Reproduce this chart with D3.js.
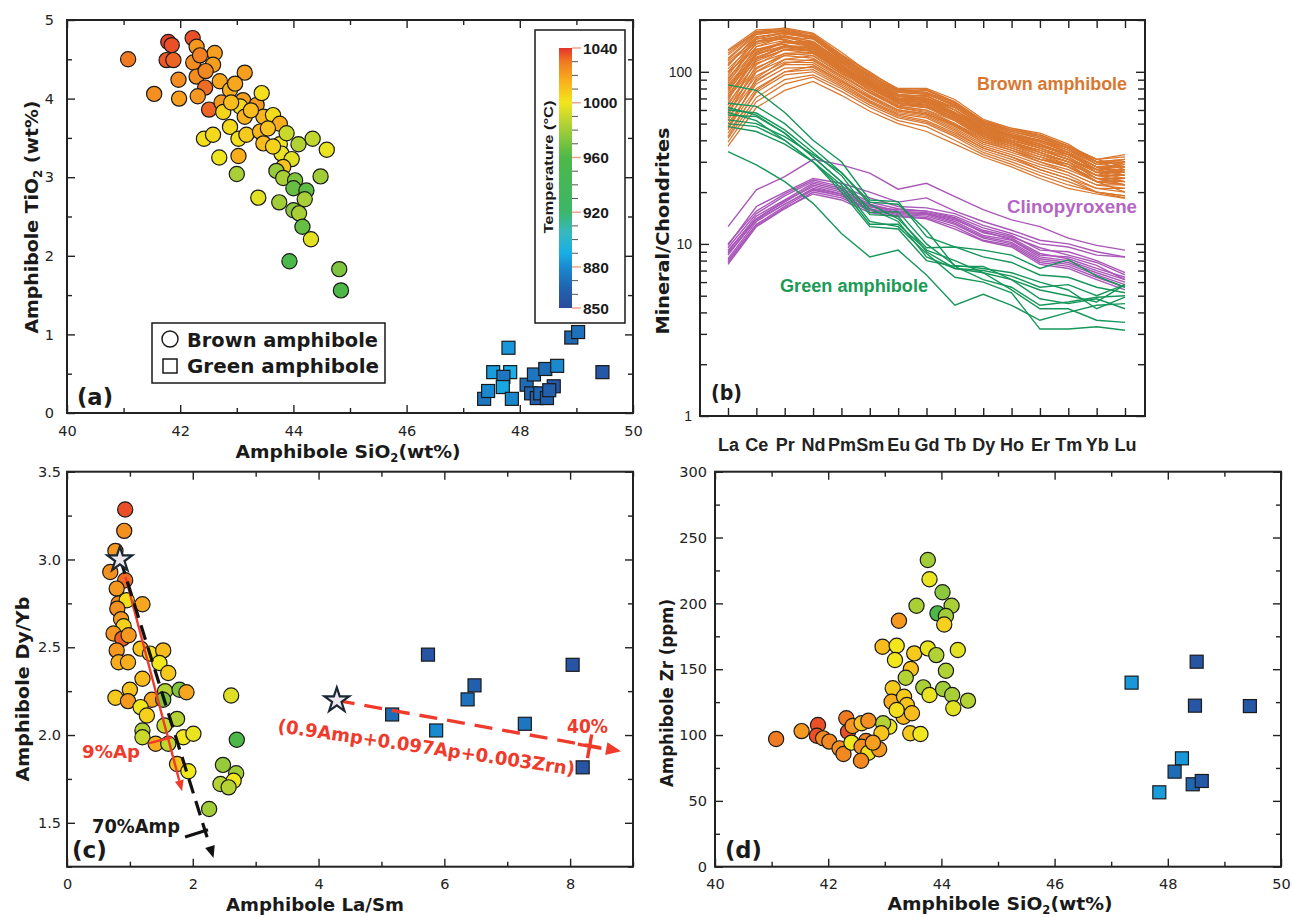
<!DOCTYPE html>
<html><head><meta charset="utf-8">
<script src="https://cdn.jsdelivr.net/npm/d3@7"></script>
<style>body{margin:0;background:#fff}</style>
</head><body>
<script>
// ================= DATA =================
const tempStops  = [850,865,880,890,905,920,960,985,1000,1015,1030,1040];
const tempColors = ["#2a4c9c","#2064b0","#1a8ad0","#18aee6","#36b8c0","#3db66a","#4db848","#b5d234","#f2e61c","#f9b21c","#f07a22","#e6332a"];
const cbMajor = [850,880,920,960,1000,1040];

// Panel (a): brown amphibole (circles)
const aBrownSiO2 = [41.08,41.79,41.85,41.76,41.88,42.22,42.29,42.61,42.23,42.35,42.58,41.97,42.29,42.44,42.70,43.14,41.54,41.98,42.31,42.51,42.73,42.88,42.97,43.11,43.35,43.44,43.06,42.76,43.14,43.47,43.64,43.76,42.88,43.03,43.17,43.41,43.47,43.76,43.88,43.79,43.64,42.42,42.58,42.69,43.03,43.00,44.09,44.34,44.59,43.97,43.82,44.48,43.70,43.82,44.03,44.00,44.23,44.20,43.38,43.75,44.00,44.10,44.16,44.31,43.93,44.81,44.84,43.25,43.55,42.90,42.45];
const aBrownTiO2 = [4.50,4.72,4.68,4.49,4.49,4.77,4.66,4.58,4.46,4.55,4.43,4.24,4.28,4.14,4.22,4.33,4.06,4.00,4.03,3.86,3.95,4.11,4.19,3.98,3.92,4.07,3.90,3.83,3.77,3.77,3.79,3.68,3.64,3.49,3.54,3.58,3.43,3.42,3.56,3.30,3.39,3.49,3.54,3.25,3.27,3.04,3.42,3.49,3.35,3.23,3.13,3.01,3.08,2.99,2.96,2.86,2.83,2.72,2.74,2.68,2.58,2.54,2.37,2.21,1.93,1.83,1.56,3.85,3.62,3.95,4.35];
const aBrownT    = [1030,1038,1036,1035,1033,1036,1022,1020,1025,1028,1020,1025,1025,1032,1018,1020,1024,1020,1022,1033,1022,1016,1018,1020,1022,1002,1004,1005,1015,1014,1003,1016,1004,1002,1008,1014,1012,1000,990,998,1006,1002,1004,999,1016,982,984,988,998,996,1010,980,978,982,972,966,964,982,996,980,975,982,966,996,958,972,960,1012,1010,1012,1026];
// Panel (a): green amphibole (squares)
const aGreenSiO2 = [47.37,47.44,47.53,47.80,47.83,47.71,47.70,47.86,48.12,48.25,48.45,48.66,48.20,48.30,48.36,48.48,48.60,48.52,48.91,49.03,49.46];
const aGreenTiO2 = [0.18,0.28,0.52,0.83,0.52,0.46,0.33,0.18,0.36,0.49,0.56,0.60,0.25,0.19,0.25,0.19,0.34,0.29,0.96,1.03,0.52];
const aGreenT    = [872,880,885,884,890,872,888,878,868,872,868,880,865,862,866,864,858,862,866,870,858];

// Panel (b): chondrite-normalised REE
const reeElements = ["La","Ce","Pr","Nd","Pm","Sm","Eu","Gd","Tb","Dy","Ho","Er","Tm","Yb","Lu"];
const brownREE = [
 [134,175,178,165,125,100,78,76,66,52,46,42,37,31,32],
 [125,170,180,168,130,98,80,80,69,53,47,44,38,30,30],
 [118,165,172,160,122,95,76,74,64,50,45,41,36,29,31],
 [110,160,168,156,120,92,74,72,62,49,44,40,35,30,29],
 [104,150,162,150,116,90,72,70,60,48,43,39,34,28,28],
 [98,145,158,147,113,88,72,70,58,47,42,38,33,27,27],
 [92,140,152,142,110,86,70,68,57,46,41,37,33,28,26],
 [88,135,148,140,108,84,69,66,56,45,40,36,32,26,27],
 [82,128,142,136,105,82,67,65,54,44,39,35,31,27,25],
 [78,122,138,132,102,80,66,63,53,43,38,34,30,25,24],
 [74,118,134,128,100,78,64,62,52,42,37,33,29,25,25],
 [70,112,128,124,97,76,63,60,50,41,36,32,28,24,23],
 [66,106,124,120,95,75,62,59,49,40,36,31,28,23,24],
 [62,100,118,116,92,73,60,57,48,39,35,30,27,23,22],
 [58,95,114,113,90,71,59,56,47,38,34,30,26,22,21],
 [54,90,110,110,88,70,58,55,46,37,33,29,26,22,22],
 [50,85,105,106,86,68,57,54,45,36,32,28,25,21,20],
 [47,80,100,103,84,67,56,52,44,36,32,27,24,21,21],
 [44,76,96,100,82,66,55,51,43,35,31,27,24,20,19],
 [41,71,90,96,80,64,54,50,42,34,30,26,23,20,19],
 [39,67,85,93,77,62,52,48,40,33,29,25,22,20,18.5],
 [37,62,78,88,73,59,50,45,38,32,28,24,21,19.5,18.4],
 [86,150,165,158,118,92,76,78,66,50,46,43,37,31,33],
 [60,118,140,138,106,84,72,73,60,46,42,40,34,26,30],
 [100,135,145,130,100,78,62,58,50,40,35,31,29,23,20],
 [72,125,150,150,115,88,66,62,55,44,38,33,30,24,22],
 [115,155,160,145,110,86,70,66,58,47,42,37,34,28,25],
 [52,100,125,128,100,80,68,66,56,42,38,35,31,25,27],
 [128,172,176,160,120,96,76,74,65,50,45,42,36,30,31],
 [95,155,168,160,122,95,78,76,64,51,45,41,36,29,30],
 [80,140,160,155,118,92,74,72,62,49,43,40,35,28,28],
 [68,130,150,148,114,90,72,70,60,47,42,38,33,27,27],
 [56,110,135,136,106,85,69,67,57,45,40,36,32,26,26],
 [46,92,118,124,98,80,65,62,53,42,38,34,30,24,24],
 [108,165,175,165,126,98,79,78,67,52,47,43,37,30,31],
 [76,130,148,144,110,87,70,69,58,46,41,38,33,27,28],
 [120,168,174,158,118,94,77,79,67,51,46,43,37,31,28],
 [90,148,160,150,114,88,70,70,62,48,42,40,36,30,27],
 [64,115,135,132,104,83,70,68,58,45,41,37,33,27,29],
 [84,132,150,146,112,90,73,68,57,47,43,38,32,26,24],
 [112,150,155,140,108,85,66,64,56,45,40,36,31,25,23],
 [48,88,112,118,94,76,63,60,52,41,37,32,29,23,22],
 [70,120,142,140,108,85,68,64,54,43,39,35,31,26,25],
 [100,158,170,162,124,96,77,75,63,50,44,40,35,29,28],
 [58,104,128,130,102,82,70,70,58,44,40,37,33,27,30],
 [42,78,100,108,88,72,60,57,49,39,35,31,28,23,23],
 [132,170,172,156,118,92,74,70,60,48,43,39,34,28,26],
 [80,126,140,134,104,82,66,63,55,44,39,34,30,24,22]
];
const cpxREE = [
 [12.6,20.6,24.6,31,28.8,25.8,20.8,22.5,18.8,15.8,13.8,12.6,10.8,9.8,9.2],
 [9.8,16.5,20,24,22.5,20,17.5,18.5,15.5,13.5,12,10.5,10,9,8.4],
 [9.5,15,19,23,21,17.5,16,15.5,14.2,12,11,9.5,8.6,7.8,6.6],
 [9,14.5,18,22.5,20.5,17,15.5,15.2,14,11.6,10.8,8.8,8.2,7.2,6.4],
 [8.6,14,17.5,22,20,16.8,15.2,15,13.5,11.2,10.5,8.4,8,7,6.2],
 [8.2,13.5,17,21,19.5,16.5,15,14.8,13.2,11,10.2,8.2,7.8,6.8,6.0],
 [8,13,16.5,20.5,19,16,14.8,14.5,13,10.8,10,8,7.6,6.6,5.8],
 [7.6,12.6,16,20,18.5,15.6,14.6,14.2,12.6,10.5,9.8,7.8,7.4,6.4,5.6],
 [9.2,14,17.8,21.5,19.5,16.4,15.8,15.5,14.5,12.4,11.2,9.2,9,8,6.8],
 [8.8,13.8,17,20.8,19,15.8,15.2,15,13.8,11.8,10.6,8.6,8.4,7.5,6.2],
 [7.8,12.8,16.2,19.5,18,15.2,14.4,14,12.2,10.4,9.6,7.6,7.2,6.2,5.4],
 [10,15.5,19.5,23.5,21.5,18.5,16.5,16.2,15,12.8,11.5,10,9.6,8.6,8.4]
];
const greenREE = [
 [84,78,58,40,30,18,17.6,11,9.6,8.4,7.8,6.6,6.4,5.6,5.2],
 [65.6,63,50,36,26,17.5,17,12,7.4,7.4,6.2,5.4,5,4.6,5.8],
 [60,57.6,46,34,25,15.2,15.4,10,7.5,7.2,6.8,6,5.4,4.2,4.9],
 [56,55,44,32,23,14.8,14.5,9,7.2,7,6.5,5.6,5.8,5.0,5.8],
 [52.6,50,42,33,26,17,14,9.5,9.6,9.2,8.6,7.2,8.1,6.5,5.6],
 [50,48,40,30,21,13,13,9.2,8,6.8,6.2,4.8,4.5,4.8,4.2],
 [48,45,38,30,20,12.6,12.2,8,7.4,6.2,5.6,4.4,4.6,4.9,5.0],
 [34.4,28.8,23,17.2,11.5,8.4,9.2,6.6,4.4,5.1,4.4,3.6,4.0,4.4,4.5],
 [58,52,40,30,22,13.5,12.6,8.8,6.4,6,5.2,3.2,3.2,3.3,3.15],
 [62,56,44,32,23,16,13.5,8.4,7.2,6.8,5.4,4.2,4.2,3.6,3.5]
];

// Panel (c): La/Sm vs Dy/Yb
const cBrownLaSm = [0.925,0.91,0.77,0.925,0.688,0.79,0.82,0.95,1.2,0.80,0.86,0.90,0.74,0.88,0.79,0.98,0.82,0.97,1.17,1.32,1.53,1.47,1.61,1.2,0.77,1.0,0.97,1.35,1.17,1.27,1.56,1.53,1.79,1.90,1.2,1.2,1.41,1.55,1.61,1.75,1.85,2.01,1.75,1.93,2.61,2.70,2.48,2.69,2.65,2.44,2.57,2.26];
const cBrownDyYb = [3.285,3.163,3.049,2.882,2.929,2.834,2.749,2.768,2.745,2.72,2.66,2.62,2.578,2.549,2.482,2.568,2.415,2.415,2.492,2.464,2.482,2.41,2.353,2.321,2.212,2.258,2.193,2.201,2.159,2.111,2.25,2.201,2.258,2.244,2.026,1.987,1.95,2.054,1.95,2.092,1.987,2.007,1.835,1.794,2.225,1.973,1.830,1.782,1.74,1.721,1.702,1.579];
const cBrownT    = [1036,1024,1022,1032,1024,1022,1026,1002,1018,1024,1022,1006,1022,1034,1022,1022,1016,1016,1010,1002,1012,1000,1008,1012,1008,1010,1022,1018,1000,1006,985,972,972,1018,984,990,1016,990,988,985,1000,998,1010,1000,995,958,978,980,1000,985,985,980];
const cGreenLaSm = [5.74,8.04,6.48,6.37,5.17,5.87,7.28,8.2];
const cGreenDyYb = [2.458,2.40,2.283,2.203,2.117,2.026,2.064,1.816];
const cGreenT    = [855,855,862,870,868,880,872,855];
const cStarLaSm = [0.84,4.29];
const cStarDyYb = [3.0,2.197];
// modelling vectors: [start, end, marker] in (La/Sm, Dy/Yb)
const ampVecLaSm = [0.85,2.33,2.06];
const ampVecDyYb = [3.0,1.30,1.44];
const apVecLaSm  = [0.93,1.83,1.48];
const apVecDyYb  = [2.90,1.68,1.97];
const mixVecLaSm = [4.29,8.81,8.31];
const mixVecDyYb = [2.197,1.907,1.936];

// Panel (d): SiO2 vs Zr
const dBrownSiO2 = [43.76,43.79,44.02,44.18,43.56,43.93,44.08,44.05,43.25,42.96,43.21,43.18,43.52,43.76,43.91,44.29,44.08,43.46,43.37,43.14,43.68,43.79,44.03,44.19,44.47,44.21,43.12,43.34,43.39,43.33,43.48,43.45,43.63,43.08,42.97,42.94,43.21,41.08,41.53,41.82,41.8,41.91,42.02,42.2,42.27,42.32,42.35,42.43,42.41,42.59,42.71,42.67,42.59,42.71,42.58,42.9,42.79];
const dBrownZr   = [232.9,218.3,208.4,198.2,198.2,192.4,190.4,184,186.8,167,167.8,157,162,165.8,160.7,164.6,148.8,150.2,143.5,135.5,136.2,130.4,135,130.4,126.1,120.3,125.3,129.1,122.8,113.9,116.5,101.3,100.8,106.3,108.9,101.3,119,97,103,107.6,99.5,97.5,95,89.9,85.6,112.7,102.5,106.9,94.2,108.9,110.9,95.5,91.1,86.6,80.5,89.2,94.2];
const dBrownT    = [980,998,975,982,982,960,980,1006,1022,1012,1000,1000,1008,998,984,996,984,1010,985,1008,982,998,980,982,985,996,1016,1008,1010,1014,1012,1008,1000,998,985,1010,1002,1030,1022,1036,1036,1026,1026,1024,1026,1030,1036,1022,1000,1010,1024,1028,1024,1002,1026,1022,1020];
const dGreenSiO2 = [47.36,48.51,48.48,49.45,48.25,48.12,48.44,48.60,47.85];
const dGreenZr   = [139.8,155.7,122.3,122,82.3,72.2,62.6,65.1,56.5];
const dGreenT    = [884,855,856,856,884,868,866,858,885];

// ================= DRAWING =================
const FONT = "'DejaVu Sans', sans-serif";
const ARIAL = "'Liberation Sans', Arial, sans-serif";
const INK = "#1a1a1a";
const RED = "#ee3b2b";
const brownCol = "#d9772f", cpxCol = "#a957b8", greenLineCol = "#16965a";

const svg = d3.select("body").append("svg").attr("width",1292).attr("height",917);
svg.append("rect").attr("width",1292).attr("height",917).attr("fill","#fff");
const tColor = d3.scaleLinear().domain(tempStops).range(tempColors).clamp(true);

function addText(g, x, y, parts, o = {}) {
  const size = o.size || 16;
  const t = g.append("text")
    .attr("transform", `translate(${x},${y})` + (o.rot ? ` rotate(${o.rot})` : ""))
    .attr("font-family", o.font || FONT)
    .attr("font-size", size)
    .attr("font-weight", o.weight || "bold")
    .attr("font-style", o.style || "normal")
    .attr("fill", o.fill || INK)
    .attr("text-anchor", o.anchor || "start");
  if (o.len) t.attr("textLength", o.len).attr("lengthAdjust", "spacingAndGlyphs");
  const arr = typeof parts === "string" ? [[parts, false]] : parts;
  let shifted = false;
  arr.forEach(([s, sub]) => {
    const ts = t.append("tspan").text(s);
    if (sub) { ts.attr("font-size", size * 0.62).attr("dy", size * 0.22); shifted = true; }
    else if (shifted) { ts.attr("dy", -size * 0.22); shifted = false; }
  });
  return t;
}

function axes(g, x, y, c) {
  const [x0, x1] = x.range(), [y0, y1] = y.range();
  const styleAx = s => { s.select(".domain").remove(); s.attr("color", "#222"); s.selectAll("line").attr("stroke-width", 1.4); };
  const fnt = s => s.attr("font-family", c.font || FONT).attr("font-size", c.fsize || 14.5).attr("font-weight", c.weight || "normal").attr("fill", INK);
  g.append("g").attr("transform", `translate(0,${y0})`)
    .call(d3.axisBottom(x).tickValues(c.xMajor).tickSize(-c.maj).tickPadding(c.xPad).tickFormat(c.xFmt))
    .call(styleAx).call(fnt);
  g.append("g").attr("transform", `translate(0,${y0})`)
    .call(d3.axisBottom(x).tickValues(c.xMinor).tickSize(-c.min).tickFormat(""))
    .call(styleAx);
  g.append("g").attr("transform", `translate(0,${y1})`)
    .call(d3.axisTop(x).tickValues(c.xMajor).tickSize(-c.maj).tickFormat("")).call(styleAx);
  g.append("g").attr("transform", `translate(0,${y1})`)
    .call(d3.axisTop(x).tickValues(c.xMinor).tickSize(-c.min).tickFormat("")).call(styleAx);
  g.append("g").attr("transform", `translate(${x0},0)`)
    .call(d3.axisLeft(y).tickValues(c.yMajor).tickSize(-c.maj).tickPadding(c.yPad).tickFormat(c.yFmt))
    .call(styleAx).call(s => s.attr("font-family", FONT).attr("font-size", c.yfsize || 14.5).attr("fill", INK));
  g.append("g").attr("transform", `translate(${x0},0)`)
    .call(d3.axisLeft(y).tickValues(c.yMinor).tickSize(-c.min).tickFormat("")).call(styleAx);
  g.append("g").attr("transform", `translate(${x1},0)`)
    .call(d3.axisRight(y).tickValues(c.yMajor).tickSize(-c.maj).tickFormat("")).call(styleAx);
  g.append("g").attr("transform", `translate(${x1},0)`)
    .call(d3.axisRight(y).tickValues(c.yMinor).tickSize(-c.min).tickFormat("")).call(styleAx);
  g.append("rect").attr("x", x0).attr("y", y1).attr("width", x1 - x0).attr("height", y0 - y1)
    .attr("fill", "none").attr("stroke", "#222").attr("stroke-width", 2);
}

function circles(g, xs, ys, ts, x, y, r) {
  g.append("g").selectAll("circle").data(xs.map((v, i) => [v, ys[i], ts[i]])).join("circle")
    .attr("cx", d => x(d[0])).attr("cy", d => y(d[1])).attr("r", r)
    .attr("fill", d => tColor(d[2])).attr("stroke", INK).attr("stroke-width", 1.2);
}
function squares(g, xs, ys, ts, x, y, s) {
  g.append("g").selectAll("rect").data(xs.map((v, i) => [v, ys[i], ts[i]])).join("rect")
    .attr("x", d => x(d[0]) - s / 2).attr("y", d => y(d[1]) - s / 2).attr("width", s).attr("height", s)
    .attr("fill", d => tColor(d[2])).attr("stroke", INK).attr("stroke-width", 1.2);
}

// ---------- Panel (a) ----------
const gA = svg.append("g");
const xA = d3.scaleLinear().domain([40, 50]).range([67, 633]);
const yA = d3.scaleLinear().domain([0, 5]).range([413, 20]);
circles(gA, aBrownSiO2, aBrownTiO2, aBrownT, xA, yA, 7.6);
squares(gA, aGreenSiO2, aGreenTiO2, aGreenT, xA, yA, 13);
axes(gA, xA, yA, {xMajor: [40,42,44,46,48,50], xMinor: [41,43,45,47,49], maj: 8, min: 5, xPad: 13, xFmt: d3.format("d"),
  yMajor: [0,1,2,3,4,5], yMinor: [0.5,1.5,2.5,3.5,4.5], yPad: 13, yFmt: d3.format("d")});
addText(gA, 348, 458, [["Amphibole SiO", false], ["2", true], ["(wt%)", false]], {size: 18.5, anchor: "middle", len: 225});
addText(gA, 38, 217, [["Amphibole TiO", false], ["2", true], [" (wt%)", false]], {size: 18.5, anchor: "middle", rot: -90, len: 233});
addText(gA, 77, 405, "(a)", {size: 23, len: 36});
// legend
gA.append("rect").attr("x", 152).attr("y", 323).attr("width", 233).attr("height", 60)
  .attr("fill", "#fff").attr("stroke", INK).attr("stroke-width", 1.5);
gA.append("circle").attr("cx", 170).attr("cy", 339).attr("r", 8).attr("fill", "#fff").attr("stroke", INK).attr("stroke-width", 1.5);
gA.append("rect").attr("x", 163).attr("y", 359).attr("width", 14).attr("height", 14).attr("fill", "#fff").attr("stroke", INK).attr("stroke-width", 1.5);
addText(gA, 187, 347, "Brown amphibole", {size: 19, len: 191});
addText(gA, 187, 373, "Green amphibole", {size: 19, len: 192});
// colour bar
gA.append("rect").attr("x", 535).attr("y", 30).attr("width", 90).attr("height", 293)
  .attr("fill", "#fff").attr("stroke", INK).attr("stroke-width", 1.5);
const cbY = d3.scaleLinear().domain([850, 1040]).range([308, 48]);
const grad = svg.append("defs").append("linearGradient").attr("id", "tgrad")
  .attr("x1", 0).attr("y1", 1).attr("x2", 0).attr("y2", 0);
tempStops.forEach((t, i) => grad.append("stop").attr("offset", (t - 850) / 190).attr("stop-color", tempColors[i]));
gA.append("rect").attr("x", 559).attr("y", cbY(1040)).attr("width", 13).attr("height", cbY(850) - cbY(1040)).attr("fill", "url(#tgrad)");
const cbMinor = d3.range(860, 1040, 10).filter(v => !cbMajor.includes(v));
gA.append("g").selectAll("line").data(cbMinor).join("line")
  .attr("x1", 572).attr("x2", 578).attr("y1", d => cbY(d)).attr("y2", d => cbY(d)).attr("stroke", "#555").attr("stroke-width", 1);
gA.append("g").selectAll("line").data(cbMajor).join("line")
  .attr("x1", 572).attr("x2", 581).attr("y1", d => cbY(d)).attr("y2", d => cbY(d)).attr("stroke", "#f4a38f").attr("stroke-width", 1.5);
gA.append("g").selectAll("text").data(cbMajor).join("text")
  .attr("x", 583).attr("y", d => cbY(d)).attr("dy", "0.36em").text(d => d)
  .attr("font-family", ARIAL).attr("font-weight", "bold").attr("font-size", 15.5).attr("fill", INK);
addText(gA, 553, 167, "Temperature (°C)", {size: 13, anchor: "middle", rot: -90, font: ARIAL, len: 133});

// ---------- Panel (b) ----------
const gB = svg.append("g");
const xB = d3.scaleLinear().domain([0, 14]).range([728, 1125]);
const yB = d3.scaleLog().domain([1, 200]).range([416, 20]);
gB.append("clipPath").attr("id", "clipB").append("rect").attr("x", 700).attr("y", 20).attr("width", 445).attr("height", 396);
const lineB = d3.line().x((d, i) => xB(i)).y(d => yB(d));
const linesG = gB.append("g").attr("clip-path", "url(#clipB)");
linesG.selectAll(".br").data(brownREE).join("path").attr("d", lineB).attr("fill", "none").attr("stroke", brownCol).attr("stroke-width", 1.25);
linesG.selectAll(".cp").data(cpxREE).join("path").attr("d", lineB).attr("fill", "none").attr("stroke", cpxCol).attr("stroke-width", 1.4);
linesG.selectAll(".gr").data(greenREE).join("path").attr("d", lineB).attr("fill", "none").attr("stroke", greenLineCol).attr("stroke-width", 1.4);
{
  const styleAx = s => { s.select(".domain").remove(); s.attr("color", "#222"); s.selectAll("line").attr("stroke-width", 1.4); };
  const idx = d3.range(reeElements.length);
  gB.append("g").attr("transform", "translate(0,416)")
    .call(d3.axisBottom(xB).tickValues(idx).tickSize(-8).tickPadding(22).tickFormat(i => reeElements[i]))
    .call(styleAx).attr("font-family", ARIAL).attr("font-size", 18).attr("font-weight", "bold").attr("fill", INK);
  gB.append("g").attr("transform", "translate(0,20)")
    .call(d3.axisTop(xB).tickValues(idx).tickSize(-8).tickFormat("")).call(styleAx);
  const yMaj = [1, 10, 100], yMin = [2,3,4,5,6,7,8,9,20,30,40,50,60,70,80,90,200];
  gB.append("g").attr("transform", "translate(700,0)")
    .call(d3.axisLeft(yB).tickValues(yMaj).tickSize(-9).tickPadding(8).tickFormat(d3.format("d")))
    .call(styleAx).attr("font-family", ARIAL).attr("font-size", 14).attr("fill", INK);
  gB.append("g").attr("transform", "translate(700,0)")
    .call(d3.axisLeft(yB).tickValues(yMin).tickSize(-7).tickFormat("")).call(styleAx);
  gB.append("g").attr("transform", "translate(1145,0)")
    .call(d3.axisRight(yB).tickValues(yMaj).tickSize(-9).tickFormat("")).call(styleAx);
  gB.append("g").attr("transform", "translate(1145,0)")
    .call(d3.axisRight(yB).tickValues(yMin).tickSize(-7).tickFormat("")).call(styleAx);
  gB.append("rect").attr("x", 700).attr("y", 20).attr("width", 445).attr("height", 396)
    .attr("fill", "none").attr("stroke", "#222").attr("stroke-width", 2);
}
addText(gB, 669, 231, "Mineral/Chondrites", {size: 18.5, anchor: "middle", rot: -90, len: 207});
addText(gB, 977, 90, "Brown amphibole", {size: 18, fill: brownCol, len: 150, font: ARIAL});
addText(gB, 1007, 213, "Clinopyroxene", {size: 18, fill: "#b565c4", len: 130, font: ARIAL});
addText(gB, 780, 292, "Green amphibole", {size: 18, fill: "#1a9a55", len: 148, font: ARIAL});
addText(gB, 711, 400, "(b)", {size: 21, len: 31});

// ---------- Panel (c) ----------
const gC = svg.append("g");
const xC = d3.scaleLinear().domain([0, 9]).range([67, 633]);
const yC = d3.scaleLinear().domain([1.25, 3.5]).range([866.7, 471.7]);
axes(gC, xC, yC, {xMajor: [0,2,4,6,8], xMinor: [1,3,5,7,9], maj: 8, min: 5, xPad: 12, xFmt: d3.format("d"),
  yMajor: [1.5,2.0,2.5,3.0,3.5], yMinor: [1.25,1.75,2.25,2.75,3.25], yPad: 6, yFmt: d3.format(".1f")});
circles(gC, cBrownLaSm, cBrownDyYb, cBrownT, xC, yC, 7.6);
squares(gC, cGreenLaSm, cGreenDyYb, cGreenT, xC, yC, 13);

function vec(g, xsArr, ysArr, o) {
  const p0 = [xC(xsArr[0]), yC(ysArr[0])], p1 = [xC(xsArr[1]), yC(ysArr[1])], pm = [xC(xsArr[2]), yC(ysArr[2])];
  const L = Math.hypot(p1[0] - p0[0], p1[1] - p0[1]);
  const u = [(p1[0] - p0[0]) / L, (p1[1] - p0[1]) / L], n = [-u[1], u[0]];
  const hl = o.head, hw = o.headW;
  const endLine = [p1[0] - u[0] * (hl + o.gap), p1[1] - u[1] * (hl + o.gap)];
  g.append("line").attr("x1", p0[0]).attr("y1", p0[1]).attr("x2", endLine[0]).attr("y2", endLine[1])
    .attr("stroke", o.color).attr("stroke-width", o.w).attr("stroke-dasharray", o.dash || null);
  const b = [p1[0] - u[0] * hl, p1[1] - u[1] * hl];
  g.append("path").attr("d", `M${p1[0]},${p1[1]}L${b[0] + n[0] * hw / 2},${b[1] + n[1] * hw / 2}L${b[0] - n[0] * hw / 2},${b[1] - n[1] * hw / 2}Z`)
    .attr("fill", o.color);
  const tl = o.tick;
  g.append("line").attr("x1", pm[0] + n[0] * tl / 2).attr("y1", pm[1] + n[1] * tl / 2)
    .attr("x2", pm[0] - n[0] * tl / 2).attr("y2", pm[1] - n[1] * tl / 2)
    .attr("stroke", o.color).attr("stroke-width", o.tw);
  if (o.cross) {
    g.append("line").attr("x1", pm[0] + u[0] * tl / 2).attr("y1", pm[1] + u[1] * tl / 2)
      .attr("x2", pm[0] - u[0] * tl / 2).attr("y2", pm[1] - u[1] * tl / 2)
      .attr("stroke", o.color).attr("stroke-width", o.tw);
  }
}
vec(gC, apVecLaSm, apVecDyYb, {color: RED, w: 2.4, head: 11, headW: 9, gap: 0, tick: 24, tw: 2.4});
vec(gC, ampVecLaSm, ampVecDyYb, {color: "#111", w: 3.2, dash: "15,8", head: 12, headW: 10, gap: 4, tick: 24, tw: 3.2});
vec(gC, mixVecLaSm, mixVecDyYb, {color: RED, w: 3.4, dash: "18,10", head: 15, headW: 13, gap: 6, tick: 24, tw: 3.4, cross: true});
gC.append("g").selectAll("path").data(cStarLaSm.map((v, i) => [v, cStarDyYb[i]])).join("path")
  .attr("transform", d => `translate(${xC(d[0])},${yC(d[1])})`)
  .attr("d", d3.symbol(d3.symbolStar, 190)())
  .attr("fill", "#ece8ef").attr("stroke", "#1b2733").attr("stroke-width", 2.2);
addText(gC, 82, 758, "9%Ap", {size: 18, fill: RED, len: 58});
addText(gC, 92, 833, "70%Amp", {size: 19, len: 88});
addText(gC, 567, 733, "40%", {size: 19, fill: RED, len: 41});
addText(gC, 277, 732, "(0.9Amp+0.097Ap+0.003Zrn)", {size: 18.5, fill: RED, rot: 8.3, len: 300});
addText(gC, 315, 911, "Amphibole La/Sm", {size: 18.5, anchor: "middle", len: 178});
addText(gC, 29, 689, "Amphibole Dy/Yb", {size: 18.5, anchor: "middle", rot: -90, len: 185});
addText(gC, 72, 858, "(c)", {size: 23, len: 35});

// ---------- Panel (d) ----------
const gD = svg.append("g");
const xD = d3.scaleLinear().domain([40, 50]).range([715, 1281]);
const yD = d3.scaleLinear().domain([0, 300]).range([866.7, 471.7]);
axes(gD, xD, yD, {xMajor: [40,42,44,46,48,50], xMinor: [41,43,45,47,49], maj: 8, min: 5, xPad: 12, xFmt: d3.format("d"),
  yMajor: [0,50,100,150,200,250,300], yMinor: [25,75,125,175,225,275], yPad: 8, yFmt: d3.format("d")});
circles(gD, dBrownSiO2, dBrownZr, dBrownT, xD, yD, 7.6);
squares(gD, dGreenSiO2, dGreenZr, dGreenT, xD, yD, 13);
addText(gD, 1000, 910, [["Amphibole SiO", false], ["2", true], ["(wt%)", false]], {size: 18.5, anchor: "middle", len: 225});
addText(gD, 673, 693, "Amphibole Zr (ppm)", {size: 18.5, anchor: "middle", rot: -90, len: 188});
addText(gD, 725, 858, "(d)", {size: 23, len: 37});
</script>
</body></html>
